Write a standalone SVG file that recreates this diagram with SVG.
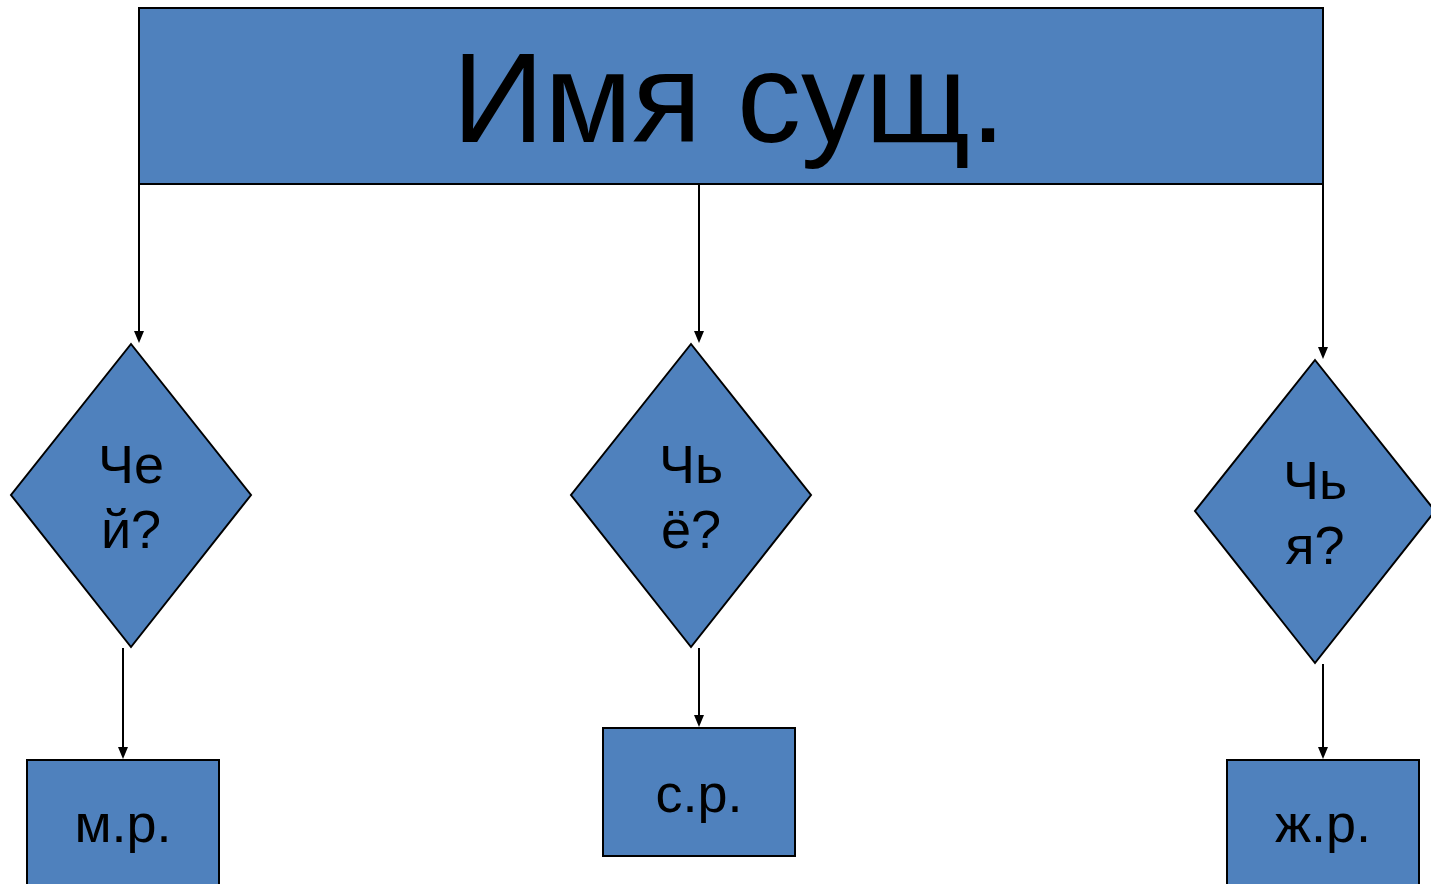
<svg xmlns="http://www.w3.org/2000/svg" width="1431" height="884" viewBox="0 0 1431 884">
<style>
.n{fill:#4F81BD;stroke:#000;stroke-width:2}
.t{font-family:"Liberation Sans",Arial,sans-serif;fill:#000;text-anchor:middle}
.c{stroke:#000;stroke-width:2;fill:none}
.h{fill:#000}
</style>
<rect width="1431" height="884" fill="#fff"/>
<g id="connectors">
<path class="c" d="M139,184 V333"/>
<path class="c" d="M699,184 V333"/>
<path class="c" d="M1323,184 V349"/>
<path class="c" d="M123,648 V749"/>
<path class="c" d="M699,648 V717"/>
<path class="c" d="M1323,664 V749"/>
<path class="h" d="M134,331 L144,331 L139,343 Z"/>
<path class="h" d="M694,331 L704,331 L699,343 Z"/>
<path class="h" d="M1318,347 L1328,347 L1323,359 Z"/>
<path class="h" d="M118,747 L128,747 L123,759 Z"/>
<path class="h" d="M694,715 L704,715 L699,727 Z"/>
<path class="h" d="M1318,747 L1328,747 L1323,759 Z"/>
</g>
<g id="title">
<rect class="n" x="139" y="8" width="1184" height="176"/>
<text class="t" x="729" y="142" font-size="128">Имя сущ.</text>
</g>
<g id="d1">
<polygon class="n" points="131,344 251,495 131,647 11,495"/>
<text class="t" x="131" y="483" font-size="54">Че</text>
<text class="t" x="131" y="548" font-size="54">й?</text>
</g>
<g id="d2">
<polygon class="n" points="691,344 811,495 691,647 571,495"/>
<text class="t" x="691" y="483" font-size="54">Чь</text>
<text class="t" x="691" y="548" font-size="54">ё?</text>
</g>
<g id="d3">
<polygon class="n" points="1315,360 1435,511 1315,663 1195,511"/>
<text class="t" x="1315" y="499" font-size="54">Чь</text>
<text class="t" x="1315" y="564" font-size="54">я?</text>
</g>
<g id="b1">
<rect class="n" x="27" y="760" width="192" height="140"/>
<text class="t" x="123" y="842" font-size="54">м.р.</text>
</g>
<g id="b2">
<rect class="n" x="603" y="728" width="192" height="128"/>
<text class="t" x="699" y="812" font-size="54">с.р.</text>
</g>
<g id="b3">
<rect class="n" x="1227" y="760" width="192" height="140"/>
<text class="t" x="1323" y="842" font-size="54">ж.р.</text>
</g>
</svg>
